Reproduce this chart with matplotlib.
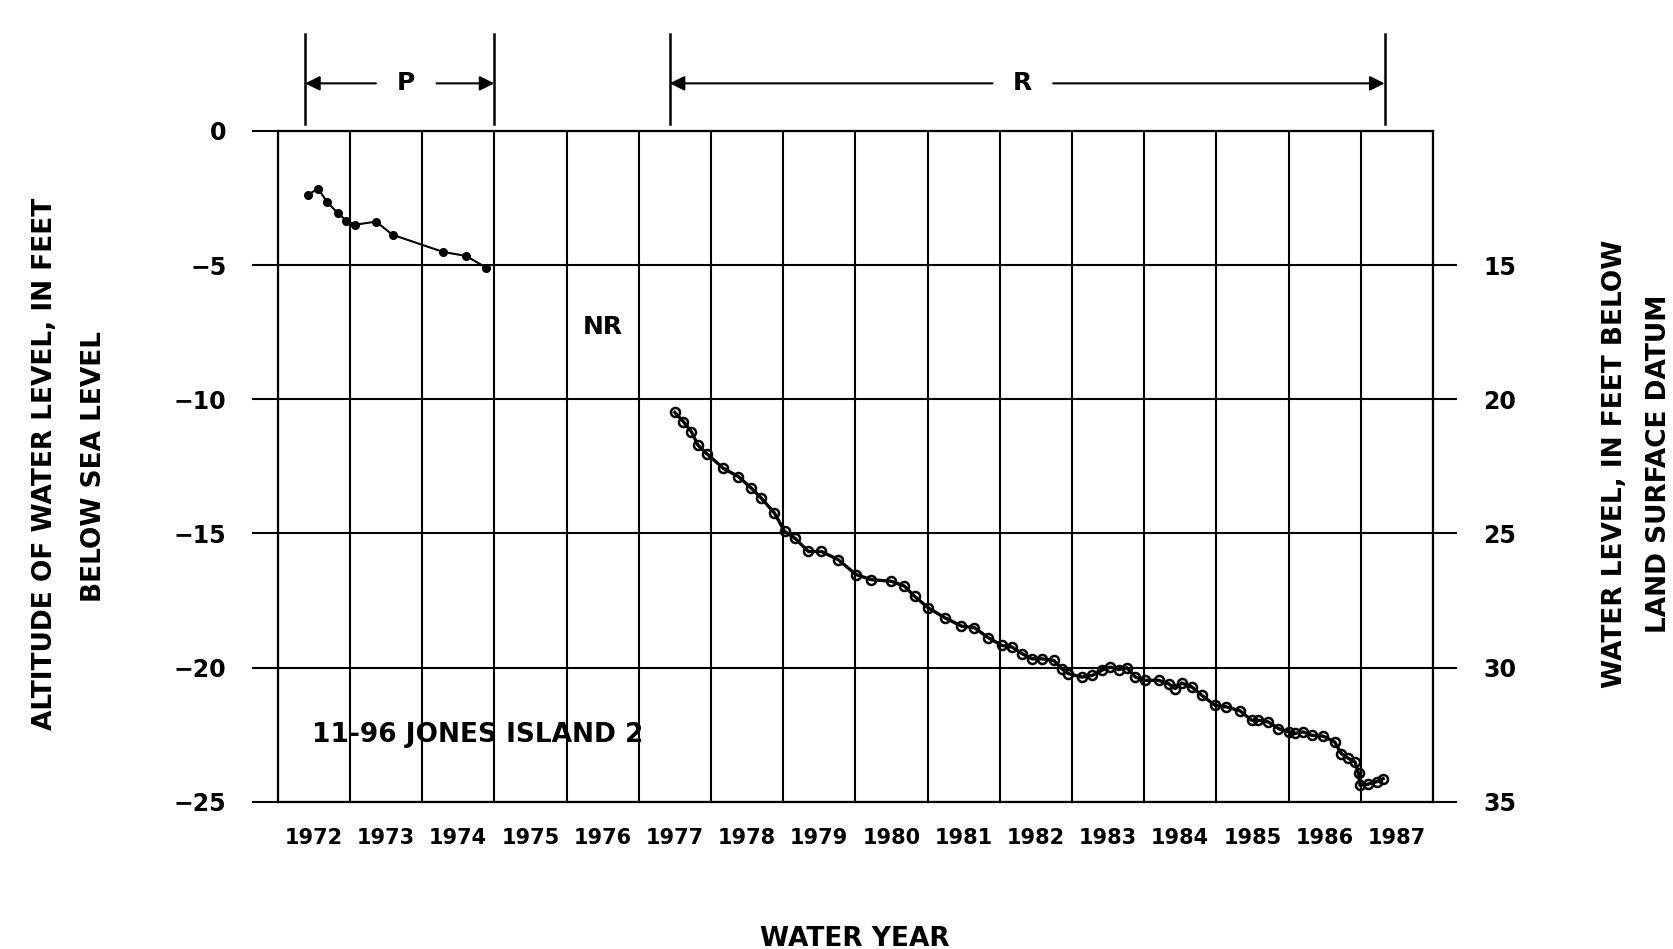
import matplotlib
matplotlib.use("Agg")
import matplotlib.pyplot as plt

# Water years, positions are decimal water years (1972.0 = start of WY 1972)
years = list(range(1972, 1988))
left_ticks = [0, -5, -10, -15, -20, -25]
right_ticks = [15, 20, 25, 30, 35]

# Period P (periodic measurements)
p_year = [1972.42, 1972.56, 1972.68, 1972.83, 1972.95, 1973.07, 1973.36,
          1973.59, 1974.29, 1974.61, 1974.89]
p_level = [-2.38, -2.15, -2.64, -3.06, -3.34, -3.50, -3.38,
           -3.87, -4.51, -4.66, -5.10]

# Period R (recorder)
r_year = [1977.50, 1977.62, 1977.73, 1977.82, 1977.94, 1978.17, 1978.38,
          1978.56, 1978.70, 1978.88, 1979.02, 1979.16, 1979.35, 1979.53,
          1979.76, 1980.01, 1980.22, 1980.50, 1980.68, 1980.82, 1981.01,
          1981.24, 1981.47, 1981.65, 1981.84, 1982.03, 1982.17, 1982.31,
          1982.45, 1982.59, 1982.75, 1982.86, 1982.95, 1983.14, 1983.28,
          1983.41, 1983.53, 1983.65, 1983.76, 1983.88, 1984.01, 1984.20,
          1984.34, 1984.43, 1984.52, 1984.66, 1984.80, 1984.98, 1985.14,
          1985.33, 1985.49, 1985.58, 1985.72, 1985.86, 1986.00, 1986.09,
          1986.20, 1986.32, 1986.48, 1986.64, 1986.73, 1986.83, 1986.92,
          1986.97, 1986.99, 1987.10, 1987.22, 1987.31]
r_level = [-10.49, -10.84, -11.21, -11.71, -12.02, -12.57, -12.88,
           -13.31, -13.69, -14.24, -14.92, -15.17, -15.67, -15.67,
           -15.97, -16.53, -16.72, -16.78, -16.96, -17.34, -17.77,
           -18.14, -18.45, -18.51, -18.88, -19.17, -19.23, -19.48,
           -19.67, -19.67, -19.73, -20.04, -20.22, -20.35, -20.29,
           -20.10, -19.98, -20.07, -20.00, -20.35, -20.47, -20.47,
           -20.60, -20.78, -20.57, -20.72, -21.03, -21.40, -21.46,
           -21.61, -21.96, -21.96, -22.02, -22.27, -22.39, -22.45,
           -22.39, -22.52, -22.55, -22.77, -23.20, -23.38, -23.51,
           -23.94, -24.38, -24.34, -24.25, -24.13]

# Record-period brackets above the chart
p_span = (1972.38, 1975.0)
r_span = (1977.43, 1987.33)

FONT = ["DejaVu Sans"]
NARROW = ["Liberation Sans Narrow", "DejaVu Sans"]

fig = plt.figure(figsize=(16.74, 9.49), dpi=100)
ax = fig.add_axes([0.1659, 0.155, 0.6901, 0.7071])

ax.set_xlim(1972, 1988)
ax.set_ylim(-25, 0)

# grid
ax.set_xticks(range(1972, 1989))
ax.set_xticklabels([])
ax.set_xticks([y + 0.5 for y in years], minor=True)
ax.set_xticklabels([str(y) for y in years], minor=True, family=NARROW,
                   fontweight="bold", fontsize=15)
ax.tick_params(axis="x", which="both", length=0, pad=19)
ax.set_yticks(left_ticks)
ax.set_yticklabels([str(t).replace("-", "\u2212") for t in left_ticks],
                   family=FONT, fontweight="bold", fontsize=17)
ax.tick_params(axis="y", length=19, width=1.5, pad=18, direction="out")
ax.grid(True, which="major", color="black", lw=1.5)
for s in ax.spines.values():
    s.set_linewidth(1.6)

ax2 = ax.twinx()
ax2.set_ylim(35, 10)
ax2.set_yticks(right_ticks)
ax2.set_yticklabels([str(t) for t in right_ticks], family=FONT,
                    fontweight="bold", fontsize=17)
ax2.tick_params(axis="y", length=17, width=1.5, pad=19, direction="out")
for s in ax2.spines.values():
    s.set_visible(False)

# hydrograph
ax.plot(p_year, p_level, color="black", lw=1.5, marker="o", ms=5.5,
        mfc="black", zorder=5)
ax.plot(r_year, r_level, color="black", lw=2.4, marker="o", ms=6.5,
        mfc="none", mew=1.8, zorder=5)

# brackets
def bracket(x0, x1, label, lx):
    for x in (x0, x1):
        ax.plot([x, x], [0.26, 3.6], color="black", lw=1.8, clip_on=False)
    ax.annotate("", xy=(x0, 1.77), xytext=(lx - 0.42, 1.77),
                arrowprops=dict(arrowstyle="-|>", color="black", lw=1.5,
                                mutation_scale=22, shrinkA=0, shrinkB=0),
                annotation_clip=False)
    ax.annotate("", xy=(x1, 1.77), xytext=(lx + 0.42, 1.77),
                arrowprops=dict(arrowstyle="-|>", color="black", lw=1.5,
                                mutation_scale=22, shrinkA=0, shrinkB=0),
                annotation_clip=False)
    ax.text(lx, 1.77, label, ha="center", va="center", family=FONT,
            fontweight="bold", fontsize=18)

bracket(p_span[0], p_span[1], "P", 1973.78)
bracket(r_span[0], r_span[1], "R", 1982.32)

ax.text(1976.5, -7.3, "NR", ha="center", va="center", family=FONT,
        fontweight="bold", fontsize=18)
ax.text(1972.48, -22.5, "11-96 JONES ISLAND 2", ha="left", va="center",
        family=FONT, fontweight="bold", fontsize=19)

fig.text(0.5108, 1 - 939 / 949, "WATER YEAR", ha="center", va="center",
         family=FONT, fontweight="bold", fontsize=19)
fig.text(45 / 1674, 0.511, "ALTITUDE OF WATER LEVEL, IN FEET", rotation=90,
         ha="center", va="center", family=FONT, fontweight="bold", fontsize=19)
fig.text(94 / 1674, 0.508, "BELOW SEA LEVEL", rotation=90,
         ha="center", va="center", family=FONT, fontweight="bold", fontsize=19)
fig.text(1615 / 1674, 0.511, "WATER LEVEL, IN FEET BELOW", rotation=90,
         ha="center", va="center", family=FONT, fontweight="bold", fontsize=19)
fig.text(1659 / 1674, 0.511, "LAND SURFACE DATUM", rotation=90,
         ha="center", va="center", family=FONT, fontweight="bold", fontsize=19)

fig.savefig("out.png", dpi=100, facecolor="white")
